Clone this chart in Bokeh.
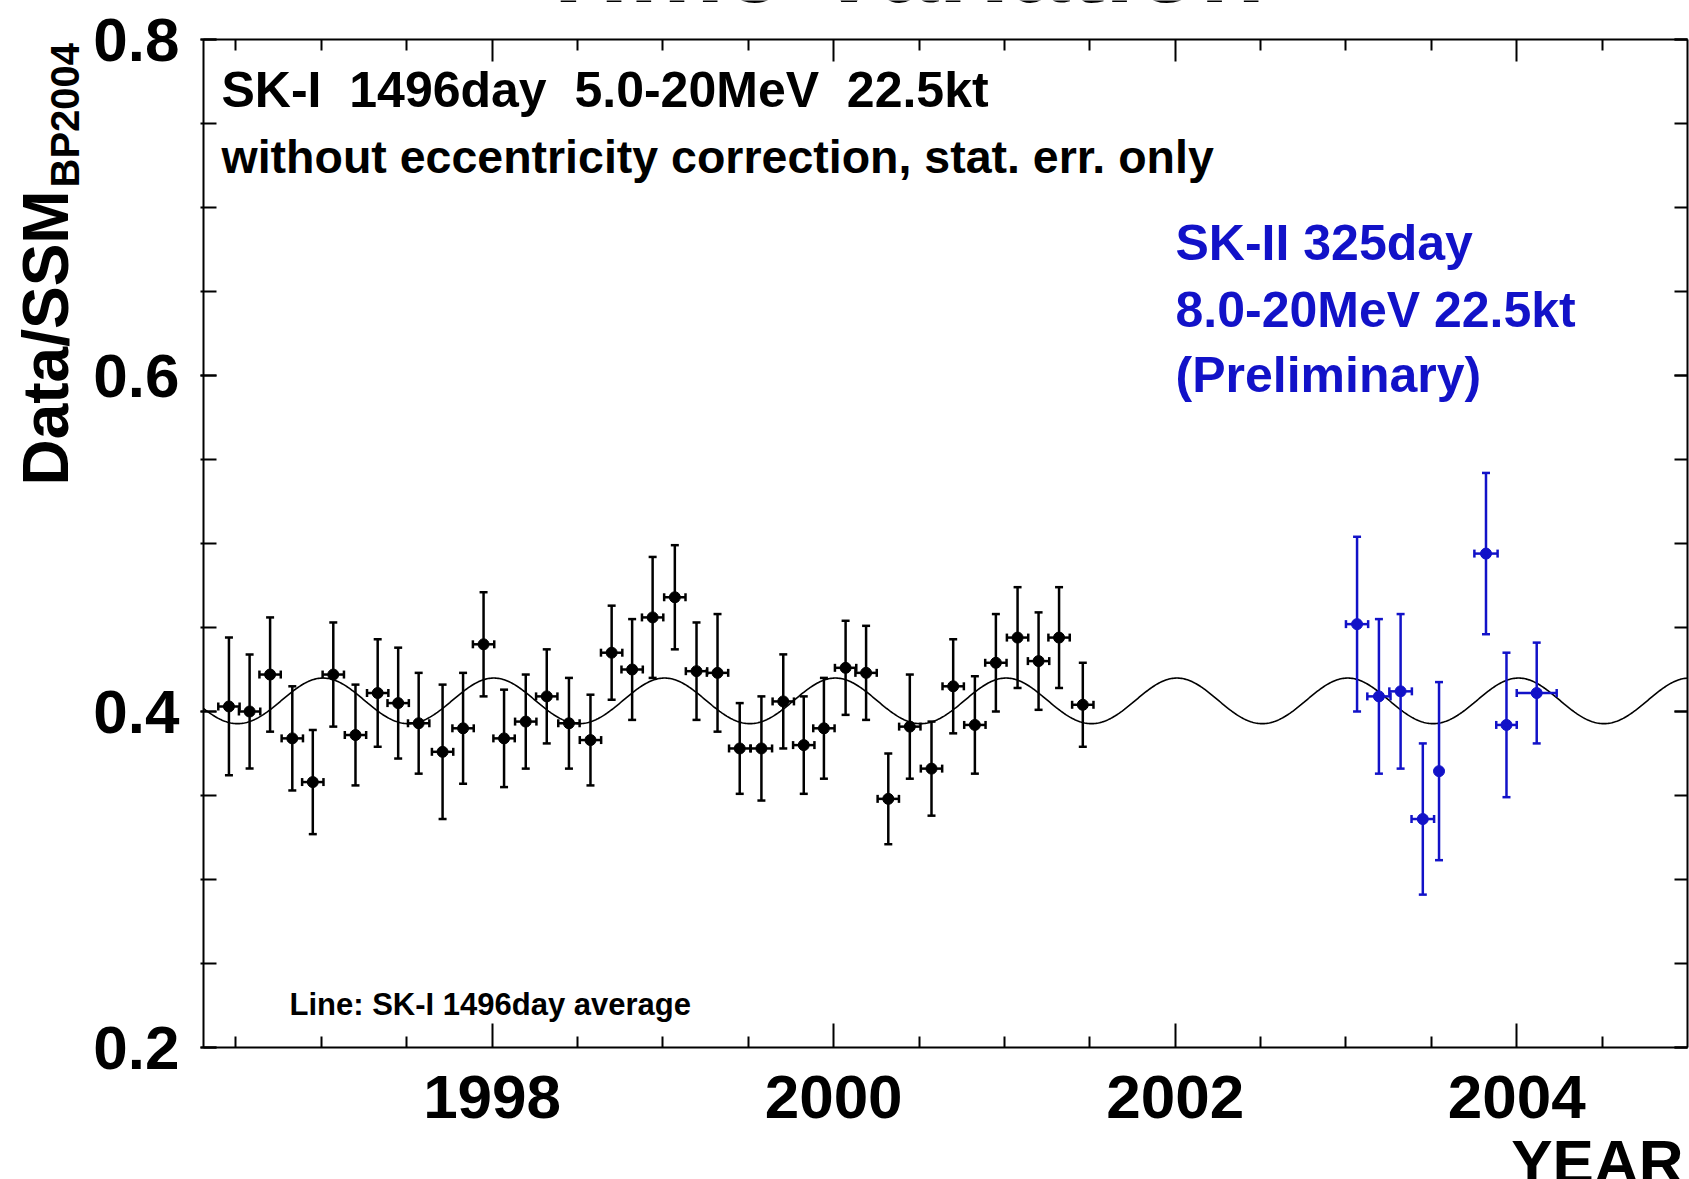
import numpy as np
from bokeh.plotting import figure
from bokeh.models import (ColumnDataSource, Whisker, TeeHead, Label, LinearAxis,
                          FixedTicker, Range1d, CustomJSTickFormatter)
from bokeh.embed import file_html
from bokeh.resources import INLINE

# ---- SK-I: 45.6-day bins, 5.0-20 MeV, 22.5 kt ----
sk1_year = [1996.459, 1996.580, 1996.700, 1996.830, 1996.950, 1997.070, 1997.200,
            1997.330, 1997.450, 1997.570, 1997.710, 1997.830, 1997.950, 1998.070,
            1998.197, 1998.320, 1998.450, 1998.576, 1998.700, 1998.820, 1998.940,
            1999.070, 1999.197, 1999.320, 1999.450, 1999.577, 1999.705, 1999.825,
            1999.943, 2000.070, 2000.190, 2000.320, 2000.446, 2000.573, 2000.700,
            2000.827, 2000.950, 2001.077, 2001.200, 2001.320, 2001.459]
sk1_ratio = [0.403, 0.400, 0.422, 0.384, 0.358, 0.422, 0.386, 0.411, 0.405, 0.393,
             0.376, 0.390, 0.440, 0.384, 0.394, 0.409, 0.393, 0.383, 0.435, 0.425,
             0.456, 0.468, 0.424, 0.423, 0.378, 0.378, 0.406, 0.380, 0.390, 0.426,
             0.423, 0.348, 0.391, 0.366, 0.415, 0.392, 0.429, 0.444, 0.430, 0.444,
             0.404]
sk1_err = [0.041, 0.034, 0.034, 0.031, 0.031, 0.031, 0.030, 0.032, 0.033, 0.030,
           0.040, 0.033, 0.031, 0.029, 0.028, 0.028, 0.027, 0.027, 0.028, 0.030,
           0.036, 0.031, 0.029, 0.035, 0.027, 0.031, 0.028, 0.029, 0.030, 0.028,
           0.028, 0.027, 0.031, 0.028, 0.028, 0.029, 0.029, 0.030, 0.029, 0.030,
           0.025]
SK1_HALF_BIN = 0.0625  # years

# ---- SK-II (preliminary): 8.0-20 MeV, 22.5 kt ----
sk2_year = [2003.065, 2003.193, 2003.320, 2003.450, 2003.545, 2003.820, 2003.940, 2004.117]
sk2_ratio = [0.452, 0.409, 0.412, 0.336, 0.3645, 0.494, 0.392, 0.411]
sk2_err = [0.052, 0.046, 0.046, 0.045, 0.053, 0.048, 0.043, 0.030]
sk2_xerr = [0.065, 0.068, 0.066, 0.066, 0.008, 0.068, 0.060, 0.117]

# ---- expected 1/r^2 modulation around the SK-I average ----
SK1_AVERAGE = 0.406
ECCENTRICITY = 0.0167
PERIHELION_PHASE = 0.01  # fraction of a year (early January)

x_major = [1998, 2000, 2002, 2004]
y_major = [0.2, 0.4, 0.6, 0.8]
y_labels = {0.2: "0.2", 0.4: "0.4", 0.6: "0.6", 0.8: "0.8"}

# axis box (data) and its placement on the page (pixels)
X0, X1 = 1996.31, 2005.0
Y0, Y1 = 0.2, 0.8
W, H = 1689, 1179
L, R, T, B = 203, 1687, 39, 1047

FONT = "Liberation Sans"
BLACK = "#000000"
BLUE = "#1212c8"
MID = 0.36  # baseline offset below the vertical centre of a text line, in em


def px_x(px):
    return X0 + (px - L) * (X1 - X0) / (R - L)


def px_y(py):
    return Y1 - (py - T) * (Y1 - Y0) / (B - T)


# the drawing area spans the whole page; the axes sit at fixed data positions
p = figure(width=W, height=H,
           x_range=Range1d(px_x(0), px_x(W)), y_range=Range1d(px_y(H), px_y(0)),
           output_backend="svg", toolbar_location=None,
           x_axis_location=None, y_axis_location=None,
           min_border_left=0, min_border_right=0, min_border_top=0, min_border_bottom=0)
p.grid.visible = False
p.outline_line_color = None
p.background_fill_color = "white"
p.border_fill_color = "white"

x_minor = [v for v in np.arange(1996.5, 2005.0, 0.5) if v not in x_major]
y_minor = [round(v, 2) for v in np.arange(0.2, 0.8001, 0.05)]
xt = FixedTicker(ticks=x_major, minor_ticks=x_minor)
yt = FixedTicker(ticks=y_major, minor_ticks=y_minor)


def make_axis(ticker, loc, bounds, major_in, minor_in, tick_out, labels, standoff=0):
    ax = LinearAxis(ticker=ticker, fixed_location=loc, bounds=bounds)
    ax.axis_line_width = 2
    ax.axis_line_color = BLACK
    ax.major_tick_line_width = 2
    ax.minor_tick_line_width = 2
    ax.major_tick_line_color = BLACK
    ax.minor_tick_line_color = BLACK
    ax.major_tick_in = major_in
    ax.minor_tick_in = minor_in
    ax.major_tick_out = tick_out
    ax.minor_tick_out = tick_out
    if labels:
        ax.major_label_text_font = FONT
        ax.major_label_text_font_size = "62px"
        ax.major_label_text_font_style = "bold"
        ax.major_label_text_color = BLACK
        ax.major_label_standoff = standoff
    else:
        ax.formatter = CustomJSTickFormatter(code="return ''")
        ax.major_label_text_font_size = "0px"
        ax.major_label_standoff = 0
    return ax


p.add_layout(make_axis(xt, Y0, (X0, X1), 24, 11, 0, True, 28), "below")
p.add_layout(make_axis(xt, Y1, (X0, X1), 22, 11, 0, False), "above")
left_axis = make_axis(yt, X0, (Y0, Y1), 13, 13, 3, True, 21)
left_axis.major_label_overrides = y_labels
p.add_layout(left_axis, "left")
p.add_layout(make_axis(yt, X1, (Y0, Y1), 13, 13, 0, False), "right")

# model curve
t = np.linspace(X0, X1, 1200)
r = 1.0 - ECCENTRICITY * np.cos(2 * np.pi * (t - np.floor(t) - PERIHELION_PHASE))
p.line(t, SK1_AVERAGE / r ** 2, line_color=BLACK, line_width=1.6)


def add_series(years, ratio, err, xerr, color):
    src = ColumnDataSource(dict(
        x=years, y=ratio,
        lo=[v - e for v, e in zip(ratio, err)],
        hi=[v + e for v, e in zip(ratio, err)],
        xlo=[x - e for x, e in zip(years, xerr)],
        xhi=[x + e for x, e in zip(years, xerr)],
    ))
    for base, lo, hi, dim in (("x", "lo", "hi", "height"), ("y", "xlo", "xhi", "width")):
        p.add_layout(Whisker(
            source=src, base=base, lower=lo, upper=hi, dimension=dim,
            line_color=color, line_width=2.5, level="glyph",
            upper_head=TeeHead(size=8, line_color=color, line_width=2.5),
            lower_head=TeeHead(size=8, line_color=color, line_width=2.5)))
    p.scatter("x", "y", source=src, size=11, marker="circle",
              fill_color=color, line_color=color)


add_series(sk1_year, sk1_ratio, sk1_err, [SK1_HALF_BIN] * len(sk1_year), BLACK)
add_series(sk2_year, sk2_ratio, sk2_err, sk2_xerr, BLUE)


def label(px, base_py, text, size, color=BLACK, bold=True, align="left", angle=0.0):
    """Place a text line whose baseline sits at the given page position."""
    if angle:
        ax, ay = px - MID * size, base_py
    else:
        ax, ay = px, base_py - MID * size
    p.add_layout(Label(x=px_x(ax), y=px_y(ay), text=text, text_font=FONT,
                       text_font_size=f"{size}px",
                       text_font_style="bold" if bold else "normal",
                       text_color=color, text_align=align,
                       text_baseline="middle", angle=angle))


S2 = " \u00a0"
label(900, 3, "Time Variation", 107, align="center")
label(221, 107, f"SK-I{S2}1496day{S2}5.0-20MeV{S2}22.5kt", 50)
label(221, 173, "without eccentricity correction, stat. err. only", 46.5)
label(1175, 260, "SK-II 325day", 50, color=BLUE)
label(1175, 327, "8.0-20MeV 22.5kt", 50, color=BLUE)
label(1175, 392, "(Preliminary)", 50, color=BLUE)
label(289, 1015, "Line: SK-I 1496day average", 31)
label(1683, 1183, "YEAR", 62, align="right")
label(69, 485, "Data/SSM", 64, angle=np.pi / 2)
label(79, 187, "BP2004", 40, angle=np.pi / 2)

open("out.html", "w").write(file_html(p, INLINE))
